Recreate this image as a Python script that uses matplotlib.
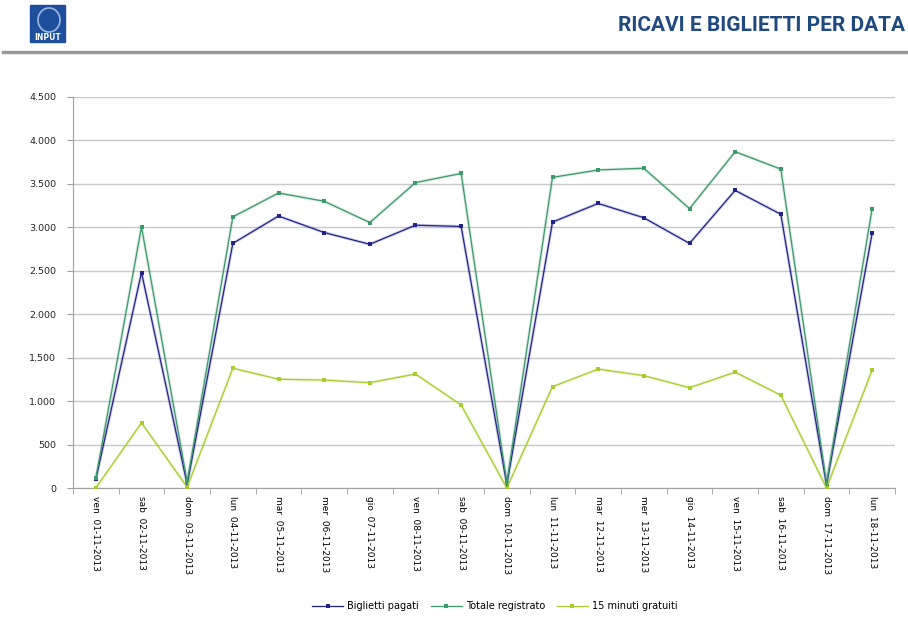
import matplotlib.pyplot as plt
import matplotlib.patches as mpatches
from matplotlib.ticker import FuncFormatter, FixedLocator

# dati
giorni = ['ven', 'sab', 'dom', 'lun', 'mar', 'mer', 'gio', 'ven', 'sab',
          'dom', 'lun', 'mar', 'mer', 'gio', 'ven', 'sab', 'dom', 'lun']
date = ['01-11-2013', '02-11-2013', '03-11-2013', '04-11-2013', '05-11-2013',
        '06-11-2013', '07-11-2013', '08-11-2013', '09-11-2013', '10-11-2013',
        '11-11-2013', '12-11-2013', '13-11-2013', '14-11-2013', '15-11-2013',
        '16-11-2013', '17-11-2013', '18-11-2013']
biglietti_pagati = [100, 2480, 45, 2815, 3130, 2940, 2805, 3025, 3010,
                    40, 3060, 3275, 3110, 2815, 3425, 3150, 35, 2935]
totale_registrato = [110, 3005, 70, 3120, 3395, 3300, 3055, 3515, 3620,
                     60, 3575, 3660, 3680, 3215, 3870, 3670, 55, 3215]
minuti_gratuiti = [0, 750, 10, 1378, 1252, 1242, 1212, 1312, 955,
                   0, 1166, 1368, 1293, 1154, 1333, 1068, 0, 1358]

etichette = [g + '  ' + d for g, d in zip(giorni, date)]

fig = plt.figure(figsize=(9.08, 6.17), dpi=100)

# intestazione
fig.text(0.997, 0.958, 'RICAVI E BIGLIETTI PER DATA', ha='right', va='center',
         fontsize=15, fontweight='bold', color='#1f4a80',
         family=['Roboto', 'DejaVu Sans'])
fig.add_artist(mpatches.Rectangle((30 / 908, 1 - 42 / 617), 35 / 908, 37 / 617,
                                  transform=fig.transFigure, color='#1d4f9c'))
fig.add_artist(mpatches.Ellipse((49 / 908, 1 - 20 / 617), 22 / 908, 24 / 617,
                                transform=fig.transFigure, fill=False,
                                ec='#9fb8e0', lw=1.2))
fig.text(47.5 / 908, 1 - 37.5 / 617, 'INPUT', ha='center', va='center',
         fontsize=5.5, color='white', fontweight='bold')
fig.add_artist(plt.Line2D([3 / 908, 1], [1 - 52 / 617, 1 - 52 / 617],
                          transform=fig.transFigure, color='#999999', lw=2.5))

ax = fig.add_axes([73 / 908, 1 - 488 / 617, 822 / 908, 391 / 617])
x = list(range(len(etichette)))

serie = [
    ('Biglietti pagati', biglietti_pagati, '#23238c'),
    ('Totale registrato', totale_registrato, '#3a9a6c'),
    ('15 minuti gratuiti', minuti_gratuiti, '#a8cc2c'),
]
for nome, valori, colore in serie:
    ax.plot(x, valori, color=colore, lw=2.2, alpha=0.2, zorder=2)
    ax.plot(x, valori, color=colore, lw=0.9, marker='s', ms=2.4, mew=0,
            label=nome, zorder=3)

ax.set_xlim(-0.5, len(x) - 0.5)
ax.set_ylim(0, 4500)
ax.set_yticks(range(0, 4501, 500))
ax.yaxis.set_major_formatter(FuncFormatter(lambda v, p: f'{int(v):,}'.replace(',', '.')))
ax.grid(axis='y', color='#c8c8c8', lw=1)
ax.set_axisbelow(True)

ax.set_xticks(x)
ax.set_xticklabels(etichette, rotation=270, fontsize=6.5, va='top', ha='center')
ax.xaxis.set_minor_locator(FixedLocator([i - 0.5 for i in range(len(x) + 1)]))
ax.tick_params(axis='x', which='major', length=0, pad=6)
ax.tick_params(axis='x', which='minor', length=4, color='#a0a0a0')
ax.tick_params(axis='y', length=4, color='#a0a0a0', labelsize=6.8, labelcolor='#222222', pad=8)

for s in ['top', 'right']:
    ax.spines[s].set_visible(False)
for s in ['left', 'bottom']:
    ax.spines[s].set_color('#a0a0a0')

fig.legend(loc='center', bbox_to_anchor=(0.545, 1 - 606 / 617), ncol=3,
           frameon=False, fontsize=7, handlelength=3.2, columnspacing=1.2,
           handletextpad=0.4)

plt.savefig('out.png', dpi=100)
